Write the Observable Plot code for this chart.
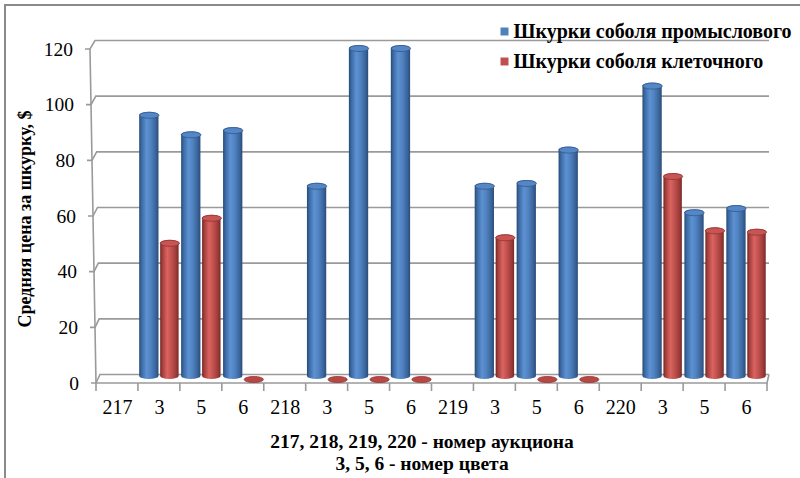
<!DOCTYPE html>
<html><head><meta charset="utf-8">
<script src="https://cdn.jsdelivr.net/npm/d3@7"></script>
<script src="https://cdn.jsdelivr.net/npm/@observablehq/plot@0.6"></script>
<style>
html,body{margin:0;padding:0;background:#fff;}
#wrap{position:relative;width:800px;height:478px;overflow:hidden;}
#border{position:absolute;left:4px;top:4px;width:830px;height:520px;border:2px solid #8a8a8a;box-sizing:border-box;pointer-events:none;}
#chart svg, #chart svg text{font-family:"Liberation Serif","Times New Roman",serif !important;}
</style></head><body><div id="wrap"><div id="chart"></div><div id="border"></div></div>
<script>
const categories = ["217","3","5","6","218","3","5","6","219","3","5","6","220","3","5","6"];
const seriesNames = ["Шкурки соболя промыслового", "Шкурки соболя клеточного"];
const tradeValues = [null,96,89,90.5,null,70.5,120,120,null,70.5,71.5,83.5,null,106.5,61,62.5];
const farmValues  = [null,50,59,0,null,0,0,0,null,52,0,0,null,74,54.5,54];
const yTicks = [0,20,40,60,80,100,120];
const yTitle = "Средняя цена за шкурку, $";
const xTitle1 = "217, 218, 219, 220 - номер аукциона";
const xTitle2 = "3, 5, 6 - номер цвета";

const rows = [];
categories.forEach((c, i) => {
  if (tradeValues[i] != null) rows.push({i, s: 0, value: tradeValues[i]});
  if (farmValues[i] != null) rows.push({i, s: 1, value: farmValues[i]});
});
const blueRows = rows.filter(d => d.s === 0);
const redRows = rows.filter(d => d.s === 1);
const left = d => d.i + (d.s === 0 ? 0.03 : 0.53);
const right = d => d.i + (d.s === 0 ? 0.49 : 0.97);
const mid = d => (left(d) + right(d)) / 2;

const NS = "http://www.w3.org/2000/svg";
const serif = "Liberation Serif";
function el(tag, attrs, text) {
  const e = document.createElementNS(NS, tag);
  for (const k in attrs) e.setAttribute(k, attrs[k]);
  if (text != null) e.textContent = text;
  return e;
}
function grad(id, stops) {
  const g = el("linearGradient", {id, x1: "0", x2: "1", y1: "0", y2: "0"});
  for (const [o, c] of stops) g.appendChild(el("stop", {offset: o, "stop-color": c}));
  return g;
}
const defsMark = () => {
  const g = el("g", {});
  const defs = el("defs", {});
  defs.appendChild(grad("gB", [["0","#264974"],["0.12","#3b69a2"],["0.38","#5d91d3"],["0.6","#5083c0"],["0.85","#3b659c"],["1","#2a4c79"]]));
  defs.appendChild(grad("gR", [["0","#722523"],["0.12","#a43e3b"],["0.38","#da6461"],["0.6","#c2524f"],["0.85","#9e3c3a"],["1","#782b29"]]));
  g.appendChild(defs);
  return g;
};

const axesMark = (index, {x, y}) => {
  const g = el("g", {});
  const paths = el("g", {fill: "none", stroke: "#9a9a9a", "stroke-width": 1.6});
  const x0 = x(0), x16 = x(16);
  const front = v => y(v) + 4, back = v => y(v) - 4.5;
  const fx = v => x0 - 6 * v / 120, bx = v => x0 + 4 - 5 * v / 120;
  for (const v of yTicks) {
    paths.appendChild(el("path", {d: `M${fx(v) - 5},${front(v)}H${fx(v)}L${bx(v)},${back(v)}H${x16 + 2}`}));
  }
  paths.appendChild(el("path", {d: `M${fx(0)},${front(0)}L${fx(120)},${front(120)}`}));
  paths.appendChild(el("path", {d: `M${x0},${front(0)}H${x16}L${x16 + 2},${back(0)}`}));
  for (let i = 0; i <= 16; i++) {
    paths.appendChild(el("path", {d: `M${x(i)},${front(0)}V${front(0) + 8}`}));
  }
  g.appendChild(paths);
  const labels = el("g", {"font-size": 19.5, "font-family": serif, "text-anchor": "end", fill: "#000"});
  for (const v of yTicks) {
    labels.appendChild(el("text", {x: fx(v) - 17, y: front(v), dy: "0.34em"}, String(v)));
  }
  g.appendChild(labels);
  return g;
};

const ellipse = {
  draw(context) {
    const rx = 9.6, ry = 3, k = 0.5523;
    context.moveTo(-rx, 0);
    context.bezierCurveTo(-rx, -ry * k, -rx * k, -ry, 0, -ry);
    context.bezierCurveTo(rx * k, -ry, rx, -ry * k, rx, 0);
    context.bezierCurveTo(rx, ry * k, rx * k, ry, 0, ry);
    context.bezierCurveTo(-rx * k, ry, -rx, ry * k, -rx, 0);
    context.closePath();
  }
};

const chart = Plot.plot({
  width: 800, height: 478,
  marginLeft: 96, marginRight: 33, marginTop: 45, marginBottom: 99,
  x: {domain: [0, 16], axis: null},
  y: {domain: [0, 120], axis: null},
  style: {fontFamily: serif, background: "transparent", color: "#000", overflow: "visible"},
  marks: [
    defsMark,
    axesMark,
    Plot.rectY(blueRows.filter(d => d.value > 0), {x1: left, x2: right, y: "value", fill: "url(#gB)", rx: 9.6, ry: 3}),
    Plot.rectY(redRows.filter(d => d.value > 0), {x1: left, x2: right, y: "value", fill: "url(#gR)", rx: 9.6, ry: 3}),
    Plot.dot(blueRows, {x: mid, y: "value", dy: 3, symbol: ellipse, r: 5, fill: "#5587c6", stroke: "#31598c", strokeWidth: 0.8}),
    Plot.dot(redRows.filter(d => d.value > 0), {x: mid, y: "value", dy: 3, symbol: ellipse, r: 5, fill: "#c85552", stroke: "#8e3533", strokeWidth: 0.8}),
    Plot.dot(redRows.filter(d => d.value === 0), {x: mid, y: "value", dy: 0, symbol: ellipse, r: 5, fill: "#b94744", stroke: "#8e3533", strokeWidth: 0.8}),
    Plot.text(categories, {x: (d, i) => i + 0.5, frameAnchor: "bottom", lineAnchor: "middle", dy: 28, text: d => d, fontSize: 20, fontFamily: serif}),
    Plot.dot([seriesNames[0]], {frameAnchor: "top-left", dx: 408, dy: -14, symbol: "square", r: 4.5, fill: "#4f81bd"}),
    Plot.dot([seriesNames[1]], {frameAnchor: "top-left", dx: 408, dy: 16, symbol: "square", r: 4.5, fill: "#c0504d"}),
    Plot.text([seriesNames[0]], {frameAnchor: "top-left", dx: 417, dy: -14, text: d => d, textAnchor: "start", lineAnchor: "middle", fontWeight: "bold", fontSize: 20, fontFamily: serif}),
    Plot.text([seriesNames[1]], {frameAnchor: "top-left", dx: 417, dy: 16, text: d => d, textAnchor: "start", lineAnchor: "middle", fontWeight: "bold", fontSize: 20, fontFamily: serif}),
    Plot.text([yTitle], {frameAnchor: "left", dx: -71, dy: 6.5, rotate: -90, text: d => d, textAnchor: "middle", lineAnchor: "middle", fontWeight: "bold", fontSize: 18, fontFamily: serif}),
    Plot.text([xTitle1], {frameAnchor: "bottom", dx: -10, dy: 62, text: d => d, textAnchor: "middle", lineAnchor: "middle", fontWeight: "bold", fontSize: 19.5, fontFamily: serif}),
    Plot.text([xTitle2], {frameAnchor: "bottom", dx: -10, dy: 84, text: d => d, textAnchor: "middle", lineAnchor: "middle", fontWeight: "bold", fontSize: 19.5, fontFamily: serif})
  ]
});
document.getElementById("chart").appendChild(chart);
</script></body></html>
